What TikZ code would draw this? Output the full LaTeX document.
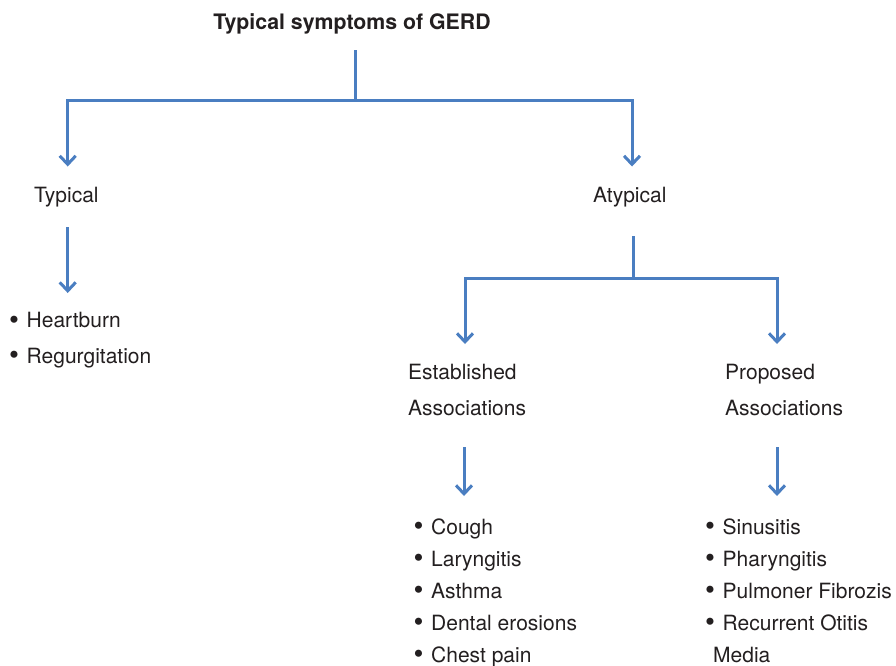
\documentclass[tikz,border=0pt]{standalone}
\usepackage{fontspec}
\setmainfont{TeX Gyre Heros}
\usetikzlibrary{arrows.meta}
\definecolor{flow}{RGB}{74,126,193}
\definecolor{ink}{RGB}{35,31,32}
\newcommand\bul{\makebox[17pt][l]{\hspace{-0.5pt}\raisebox{-1.5pt}{\scalebox{1.35}{\textbullet}}}}
\begin{document}
\begin{tikzpicture}[x=1pt,y=-1pt,
  txt/.style={anchor=base west,inner sep=0pt,text=ink,font=\fontsize{21}{25}\selectfont},
  ttl/.style={anchor=base,inner sep=0pt,text=ink,font=\fontsize{21.3}{25}\selectfont\bfseries},
  wire/.style={draw=flow,line width=3pt},
  arr/.style={wire,-{Straight Barb[length=8.5pt,width=16pt,line width=3pt]}}]
\useasboundingbox (0,0) rectangle (896,665);
% texts
\node[ttl] (title) at (352,29.3) {Typical symptoms of GERD};
\node[txt] (typ) at (34,202) {Typical};
\node[txt] (atyp) at (593,202) {Atypical};
\node[txt] (h1) at (9.5,327.5) {\bul Heartburn};
\node[txt] (h2) at (9.5,363) {\bul Regurgitation};
\node[txt] (est1) at (408,379) {Established};
\node[txt] (est2) at (408,415) {Associations};
\node[txt] (pro1) at (725,379) {Proposed};
\node[txt] (pro2) at (725,415) {Associations};
\node[txt] (e1) at (414,534) {\bul Cough};
\node[txt] (e2) at (414,566) {\bul Laryngitis};
\node[txt] (e3) at (414,598) {\bul Asthma};
\node[txt] (e4) at (414,630) {\bul Dental erosions};
\node[txt] (e5) at (414,662) {\bul Chest pain};
\node[txt] (p1) at (705.5,534) {\bul Sinusitis};
\node[txt] (p2) at (705.5,566) {\bul Pharyngitis};
\node[txt] (p3) at (705.5,598) {\bul Pulmoner Fibrozis};
\node[txt] (p4) at (705.5,630) {\bul Recurrent Otitis};
\node[txt] (p5) at (713,662) {Media};
% connector coordinates
\coordinate (tS) at (355,50);
\coordinate (tJ) at (355,100);
\coordinate (typIn) at (67.7,166.5);
\coordinate (atypIn) at (632,166.5);
\coordinate (typOut) at (67.7,227);
\coordinate (hIn) at (67.7,293);
\coordinate (atypOut) at (633,236);
\coordinate (aJ) at (633,278);
\coordinate (estIn) at (465,344);
\coordinate (proIn) at (777,344);
\coordinate (estOut) at (464,447);
\coordinate (eIn) at (464,496);
\coordinate (proOut) at (777,447);
\coordinate (pIn) at (777,496);
% connectors
\draw[wire] (tS) -- (tJ);
\draw[arr] (tJ) -| (typIn);
\draw[arr] (tJ) -| (atypIn);
\draw[arr] (typOut) -- (hIn);
\draw[wire] (atypOut) -- (aJ);
\draw[arr] (aJ) -| (estIn);
\draw[arr] (aJ) -| (proIn);
\draw[arr] (estOut) -- (eIn);
\draw[arr] (proOut) -- (pIn);
\end{tikzpicture}
\end{document}
